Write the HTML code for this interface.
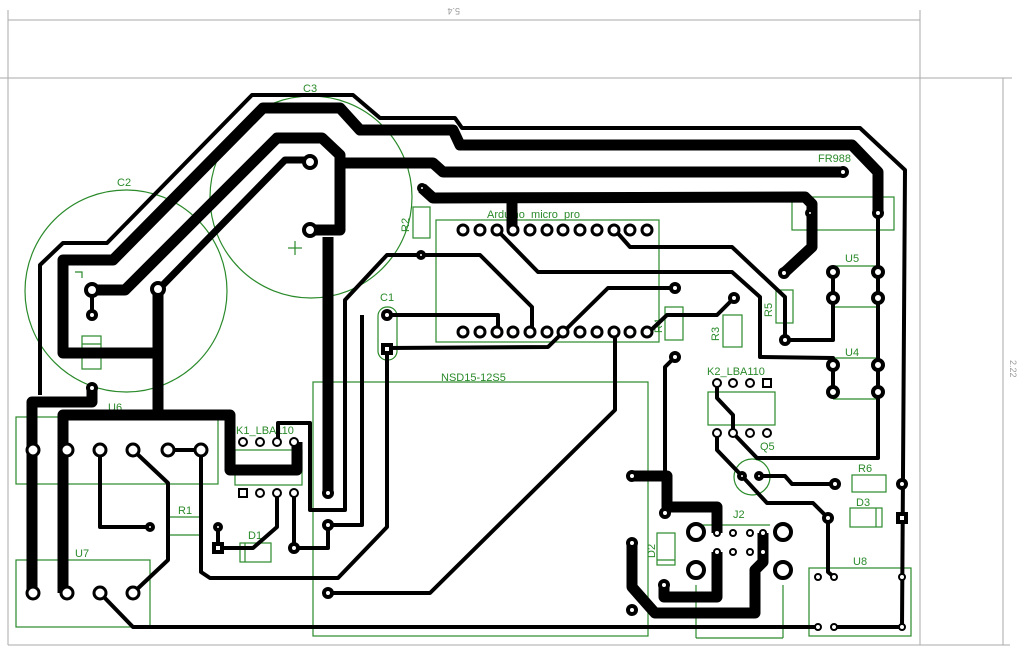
<!DOCTYPE html>
<html><head><meta charset="utf-8"><style>html,body{margin:0;padding:0;background:#fff}svg{display:block}</style></head>
<body>
<svg width="1024" height="653" viewBox="0 0 1024 653" xmlns="http://www.w3.org/2000/svg" font-family="Liberation Sans, sans-serif">
<g stroke="#aaa" stroke-width="1" fill="none">
<line x1="8" y1="20" x2="920" y2="20"/><line x1="8" y1="10" x2="8" y2="645"/><line x1="920" y1="10" x2="920" y2="645"/>
<line x1="0" y1="78" x2="1012" y2="78"/><line x1="8" y1="645" x2="1010" y2="645"/>
<line x1="1003" y1="78" x2="1003" y2="645"/>
</g>
<text x="460" y="14" font-size="9" fill="#999" transform="rotate(180 460 11)">5.4</text>
<text x="1010" y="360" font-size="9" fill="#999" transform="rotate(90 1010 360)">2.22</text>
<g stroke="#2a8a2a" stroke-width="1.2" fill="none">
<circle cx="126" cy="291" r="101"/><circle cx="311" cy="197" r="101"/>
<line x1="288" y1="248" x2="302" y2="248"/><line x1="295" y1="241" x2="295" y2="255"/>
<rect x="413" y="207" width="17" height="31"/>
<rect x="378" y="307" width="19" height="53" rx="9"/>
<rect x="436" y="220" width="223" height="122"/>
<rect x="792" y="197" width="102" height="33"/>
<rect x="776" y="290" width="17" height="33"/><rect x="723" y="315" width="19" height="32"/><rect x="665" y="307" width="18" height="33"/>
<line x1="833" y1="266" x2="878" y2="266"/><line x1="833" y1="307" x2="878" y2="307"/>
<line x1="833" y1="358" x2="878" y2="358"/><line x1="833" y1="399" x2="878" y2="399"/>
<rect x="708" y="392" width="67" height="33"/>
<circle cx="752" cy="477" r="18"/>
<rect x="852" y="475" width="34" height="17"/><rect x="850" y="508" width="32" height="19"/><line x1="876" y1="508" x2="876" y2="527"/>
<rect x="313" y="382" width="335" height="254"/>
<rect x="657" y="533" width="18" height="32"/><line x1="657" y1="560" x2="675" y2="560"/>
<line x1="696" y1="525" x2="770" y2="525"/><line x1="696" y1="585" x2="696" y2="638"/><line x1="783" y1="585" x2="783" y2="638"/><line x1="696" y1="638" x2="783" y2="638"/>
<rect x="809" y="568" width="102" height="68"/>
<rect x="16" y="417" width="202" height="67"/><rect x="16" y="560" width="134" height="67"/>
<rect x="235" y="450" width="67" height="35"/>
<rect x="240" y="543" width="31" height="19"/><line x1="245" y1="543" x2="245" y2="562"/>
<line x1="170" y1="517" x2="200" y2="517"/><line x1="170" y1="535" x2="200" y2="535"/>
<rect x="82" y="336" width="19" height="33"/><line x1="82" y1="344" x2="101" y2="344"/>
<polyline points="75,272 82,272 82,278"/>
</g>
<g fill="#2a8a2a" font-size="11">
<text x="117" y="186">C2</text><text x="303" y="92">C3</text><text x="380" y="301">C1</text>
<text x="487" y="218">Arduino_micro_pro</text><text x="818" y="162">FR988</text>
<text x="845" y="262">U5</text><text x="845" y="356">U4</text><text x="707" y="375">K2_LBA110</text>
<text x="441" y="381">NSD15-12S5</text><text x="858" y="472">R6</text><text x="856" y="506">D3</text>
<text x="733" y="518">J2</text><text x="853" y="565">U8</text><text x="108" y="411">U6</text><text x="75" y="557">U7</text>
<text x="236" y="434">K1_LBA110</text><text x="178" y="514">R1</text><text x="248" y="539">D1</text>
<text x="760" y="450">Q5</text>
<text transform="translate(409 232) rotate(-90)">R2</text><text transform="translate(772 317) rotate(-90)">R5</text>
<text transform="translate(719 341) rotate(-90)">R3</text><text transform="translate(662 333) rotate(-90)">R4</text>
<text transform="translate(655 558) rotate(-90)">D2</text>
</g>
<g stroke="#000" fill="none" stroke-width="11" stroke-linejoin="round">
<polyline points="160,353 63,353 63,260 113,260 263,108 340,108 360,130 453,130 460,145 852,145 878,172 878,213"/>
<polyline points="92,290 125,290 277,138 322,138 340,155 340,230 310,230"/>
<polyline points="340,163 433,163 443,172 843,172"/>
<polyline points="328,237 328,493"/>
<polyline points="158,289 158,415"/>
<polyline points="63,593 63,415 230,415 230,470 297,470 297,442"/>
<polyline points="92,388 92,402 32,402 32,593"/>
<polyline points="422,188 433,198 805,197 812,204 812,247 784,273"/>
<polyline points="512,198 512,230"/>
<polyline points="632,476 667,476 667,507 717,507 717,533"/>
<polyline points="717,552 717,597 664,597 664,585"/>
<polyline points="632,543 632,587 655,613 755,613 755,570 763,562 763,533"/>
</g>
<polyline points="158,290 285,160 312,160" stroke="#000" fill="none" stroke-width="7" stroke-linejoin="round"/>
<g stroke="#000" fill="none" stroke-width="4" stroke-linejoin="round">
<polyline points="40,395 40,265 63,243 107,243 252,95 353,95 380,118 455,118 462,128 860,128 905,170 902,627 835,627"/>
<polyline points="92,290 92,315"/>
<polyline points="100,450 100,527 150,527"/>
<polyline points="133,450 168,483 168,560 133,593"/>
<polyline points="168,450 201,450"/>
<polyline points="201,450 201,572 210,578 338,578 387,527 387,349"/>
<polyline points="100,593 133,627 818,627"/>
<polyline points="278,442 278,423 310,423 310,510 345,510 345,300 387,255 480,255 532,307 532,332"/>
<polyline points="387,315 498,315 498,332"/>
<polyline points="362,315 362,525 328,525"/>
<polyline points="387,348 548,347 608,288 675,288"/>
<polyline points="497,230 538,272 732,272 760,297 760,357 833,358 833,392"/>
<polyline points="615,230 630,247 732,247 785,297 785,340 833,340 833,272 833,298"/>
<polyline points="878,213 878,458 757,458 733,433"/>
<polyline points="717,383 717,398 733,415 733,433"/>
<polyline points="717,433 717,450 742,476 767,503 813,503 828,518 828,572 834,577"/>
<polyline points="759,476 785,476 792,484 835,484"/>
<polyline points="734,298 717,315 667,315 649,332"/>
<polyline points="675,357 665,367 665,476"/>
<polyline points="615,332 615,410 430,593 328,593"/>
<polyline points="277,493 277,527 253,548 218,548 218,527"/>
<polyline points="294,493 294,548 328,548 328,525"/>
</g>
<g fill="#fff" stroke="#000" stroke-width="4">
<circle cx="92" cy="290" r="6"/><circle cx="92" cy="315" r="4"/><circle cx="158" cy="289" r="6"/>
<circle cx="310" cy="162" r="6"/><circle cx="310" cy="230" r="6"/><circle cx="422" cy="188" r="3"/><circle cx="421" cy="255" r="3"/>
<circle cx="387" cy="315" r="4"/><rect x="383" y="345" width="8" height="8"/>
<circle cx="843" cy="172" r="4"/><circle cx="878" cy="213" r="4"/><circle cx="810" cy="213" r="3"/><circle cx="784" cy="273" r="4"/>
<circle cx="833" cy="272" r="5"/><circle cx="878" cy="272" r="5"/><circle cx="833" cy="298" r="5"/><circle cx="878" cy="298" r="5"/>
<circle cx="833" cy="365" r="5"/><circle cx="878" cy="365" r="5"/><circle cx="833" cy="392" r="5"/><circle cx="878" cy="392" r="5"/>
<circle cx="785" cy="340" r="4"/><circle cx="675" cy="288" r="4"/><circle cx="734" cy="298" r="4"/><circle cx="675" cy="357" r="4"/>
<circle cx="92" cy="388" r="4"/><circle cx="150" cy="527" r="3"/>
<circle cx="218" cy="527" r="3"/><rect x="214" y="544" width="8" height="8"/><circle cx="294" cy="548" r="4"/><circle cx="328" cy="525" r="4"/><circle cx="328" cy="493" r="4"/><circle cx="328" cy="593" r="4"/>
<circle cx="632" cy="476" r="4"/><circle cx="665" cy="513" r="4"/><circle cx="632" cy="543" r="4"/><circle cx="664" cy="585" r="4"/><circle cx="632" cy="610" r="4"/>
<circle cx="742" cy="476" r="3"/><circle cx="759" cy="476" r="3"/><circle cx="835" cy="484" r="4"/><circle cx="828" cy="518" r="4"/>
<circle cx="902" cy="484" r="4"/><rect x="898" y="514" width="8" height="8"/>
<circle cx="696" cy="532" r="8"/><circle cx="696" cy="570" r="8"/><circle cx="783" cy="532" r="8"/><circle cx="783" cy="570" r="8"/>
</g>
<g fill="#fff" stroke="#000" stroke-width="3">
<circle cx="463" cy="230" r="5"/><circle cx="480" cy="230" r="5"/><circle cx="497" cy="230" r="5"/><circle cx="513" cy="230" r="5"/><circle cx="530" cy="230" r="5"/><circle cx="547" cy="230" r="5"/><circle cx="563" cy="230" r="5"/><circle cx="580" cy="230" r="5"/><circle cx="597" cy="230" r="5"/><circle cx="614" cy="230" r="5"/><circle cx="630" cy="230" r="5"/><circle cx="647" cy="230" r="5"/>
<circle cx="463" cy="332" r="5"/><circle cx="480" cy="332" r="5"/><circle cx="497" cy="332" r="5"/><circle cx="513" cy="332" r="5"/><circle cx="530" cy="332" r="5"/><circle cx="547" cy="332" r="5"/><circle cx="563" cy="332" r="5"/><circle cx="580" cy="332" r="5"/><circle cx="597" cy="332" r="5"/><circle cx="614" cy="332" r="5"/><circle cx="630" cy="332" r="5"/><circle cx="647" cy="332" r="5"/>
<circle cx="33" cy="450" r="6"/><circle cx="67" cy="450" r="6"/><circle cx="100" cy="450" r="6"/><circle cx="133" cy="450" r="6"/><circle cx="168" cy="450" r="6"/><circle cx="201" cy="450" r="6"/>
<circle cx="33" cy="593" r="6"/><circle cx="67" cy="593" r="6"/><circle cx="100" cy="593" r="6"/><circle cx="133" cy="593" r="6"/>
</g>
<g fill="#fff" stroke="#000" stroke-width="2">
<circle cx="243" cy="442" r="4"/><circle cx="260" cy="442" r="4"/><circle cx="277" cy="442" r="4"/><circle cx="294" cy="442" r="4"/>
<rect x="239" y="489" width="8" height="8"/><circle cx="260" cy="493" r="4"/><circle cx="277" cy="493" r="4"/><circle cx="294" cy="493" r="4"/>
<circle cx="717" cy="383" r="4"/><circle cx="733" cy="383" r="4"/><circle cx="750" cy="383" r="4"/><rect x="763" y="379" width="8" height="8"/>
<circle cx="717" cy="433" r="4"/><circle cx="733" cy="433" r="4"/><circle cx="750" cy="433" r="4"/><circle cx="767" cy="433" r="4"/>
<circle cx="717" cy="533" r="3"/><circle cx="717" cy="552" r="3"/><circle cx="733" cy="533" r="3"/><circle cx="750" cy="533" r="3"/><circle cx="733" cy="552" r="3"/><circle cx="750" cy="552" r="3"/><circle cx="763" cy="533" r="3"/><circle cx="763" cy="552" r="3"/>
<circle cx="818" cy="577" r="3"/><circle cx="834" cy="577" r="3"/><circle cx="902" cy="577" r="3"/><circle cx="818" cy="627" r="3"/><circle cx="834" cy="627" r="3"/><circle cx="902" cy="627" r="3"/>
</g>
</svg>
</body></html>
